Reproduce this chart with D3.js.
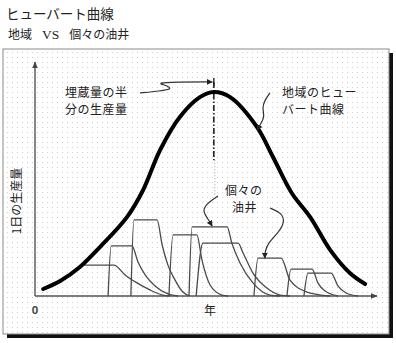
<!DOCTYPE html>
<html>
<head>
<meta charset="utf-8">
<title>ヒューバート曲線</title>
<style>
body { margin: 0; background: #fff; }
text { font-family: "Noto Sans CJK JP", "Noto Sans", sans-serif; }
</style>
</head>
<body>
<div id="chart"></div>
<script src="https://cdn.jsdelivr.net/npm/d3@7"></script>
<script>
// Regional Hubbert curve (x: time 0-100, y: rate 0-100)
var hubbertX = [2.4, 7.4, 13.2, 19.1, 27.1, 31.8, 36.8, 42.6, 48.5, 52.6, 57.4, 65.3, 70.0, 75.5, 80.9, 86.8, 92.6, 97.1];
var hubbertY = [3.0, 6.4, 12.4, 20.9, 33.8, 45.3, 62.4, 76.5, 85.0, 87.2, 85.0, 72.2, 59.4, 44.0, 33.8, 19.7, 9.8, 5.1];

// individual wells: rise, plateau, decline
var wellsX = [
  [14.4, 23.2, 26.5, 30.0, 33.8, 37.6, 39.7],
  [21.5, 22.4, 28.5, 30.3, 32.4, 35.3, 39.1, 42.1],
  [28.2, 29.1, 35.9, 37.4, 39.1, 41.2, 43.5, 45.6],
  [39.4, 40.6, 47.6, 49.1, 51.5, 55.0, 56.8],
  [45.3, 46.2, 56.5, 57.9, 60.3, 64.1, 69.1, 72.1],
  [47.4, 49.4, 59.7, 61.2, 64.1, 68.2, 72.1, 75.0],
  [64.4, 65.6, 72.4, 75.0, 80.0, 86.8],
  [74.1, 75.3, 81.5, 83.2, 85.3, 89.1],
  [79.1, 80.3, 87.1, 89.1, 91.5, 95.0]
];
var wellsY = [
  [13.2, 13.2, 9.0, 5.6, 2.6, 0.4, 0],
  [0, 21.4, 21.4, 14.5, 9.0, 4.3, 0.9, 0],
  [0, 32.5, 32.5, 21.8, 13.2, 6.8, 1.7, 0],
  [0, 26.1, 26.1, 15.4, 4.7, 0.4, 0],
  [0, 29.5, 29.5, 22.6, 14.1, 5.6, 0.4, 0],
  [0, 22.6, 22.6, 18.4, 9.8, 3.4, 0.4, 0],
  [0, 16.2, 16.2, 6.8, 1.7, 0],
  [0, 11.5, 11.5, 5.6, 2.1, 0],
  [0, 9.8, 9.8, 4.3, 1.3, 0]
];

// annotation leader lines (same units)
var leaders = [
  [[30.9, 86.8], [36.8, 87.6], [40.6, 88.5], [38.2, 90.2], [35.9, 91.0], [41.2, 91.5], [52.1, 91.5]],
  [[69.1, 86.8], [67.6, 83.8], [66.8, 80.3], [67.6, 76.5], [66.2, 73.1], [65.3, 70.9]],
  [[53.8, 42.7], [50.0, 38.9], [49.4, 35.9], [50.9, 32.9], [52.1, 29.9]],
  [[69.1, 37.6], [72.6, 35.5], [73.5, 31.6], [71.5, 26.9], [68.5, 22.6], [67.6, 18.8], [67.6, 16.2]]
];

var peakX = 52.6;

var title = "ヒューバート曲線",
    yLabel = "1日の生産量",
    xLabel = "年";

var W = 396, H = 343;

var svg = d3.select("#chart").append("svg")
    .attr("width", W)
    .attr("height", H);

var defs = svg.append("defs");
var pat = defs.append("pattern")
    .attr("id", "dots")
    .attr("width", 5)
    .attr("height", 5)
    .attr("patternUnits", "userSpaceOnUse");
pat.append("rect").attr("width", 5).attr("height", 5).attr("fill", "#fff");
pat.append("rect").attr("x", 2).attr("y", 2).attr("width", 1).attr("height", 1).attr("fill", "#cfcfcf");

defs.append("marker")
    .attr("id", "arr")
    .attr("viewBox", "0 0 10 10")
    .attr("refX", 9).attr("refY", 5)
    .attr("markerWidth", 5).attr("markerHeight", 5)
    .attr("orient", "auto")
  .append("path")
    .attr("d", "M0,0L10,5L0,10z")
    .attr("fill", "#222");

defs.append("marker")
    .attr("id", "axarr")
    .attr("viewBox", "0 0 10 10")
    .attr("refX", 9).attr("refY", 5)
    .attr("markerWidth", 5).attr("markerHeight", 5)
    .attr("orient", "auto")
  .append("path")
    .attr("d", "M0,1L10,5L0,9z")
    .attr("fill", "#444");

// titles
svg.append("text")
    .attr("x", 6).attr("y", 19)
    .attr("font-size", 13.5)
    .attr("fill", "#222")
    .text(title);
var sub = svg.append("text")
    .attr("x", 8).attr("y", 39)
    .attr("font-size", 12)
    .attr("fill", "#222");
sub.append("tspan").text("地域");
sub.append("tspan").attr("dx", 10)
    .attr("font-family", "Liberation Serif, serif")
    .attr("font-size", 13.5)
    .text("VS");
sub.append("tspan").attr("dx", 10).text("個々の油井");

// frame with shadow
svg.append("rect")
    .attr("x", 7).attr("y", 53)
    .attr("width", 386).attr("height", 285)
    .attr("fill", "#111");
svg.append("rect")
    .attr("x", 3).attr("y", 49)
    .attr("width", 386).attr("height", 285)
    .attr("fill", "url(#dots)")
    .attr("stroke", "#8a8a8a")
    .attr("stroke-width", 1);

var x = d3.scaleLinear().domain([0, 100]).range([35, 375]);
var y = d3.scaleLinear().domain([0, 100]).range([296, 62]);

// axes
svg.append("line")
    .attr("x1", x(0)).attr("y1", y(0))
    .attr("x2", x(0)).attr("y2", y(100))
    .attr("stroke", "#555").attr("stroke-width", 1.4)
    .attr("marker-end", "url(#axarr)");
svg.append("line")
    .attr("x1", x(0)).attr("y1", y(0))
    .attr("x2", x(100) + 2).attr("y2", y(0))
    .attr("stroke", "#555").attr("stroke-width", 1.4)
    .attr("marker-end", "url(#axarr)");

svg.append("text")
    .attr("x", x(0)).attr("y", 314)
    .attr("text-anchor", "middle")
    .attr("font-size", 11).attr("font-weight", "bold")
    .attr("fill", "#444")
    .text("0");
svg.append("text")
    .attr("x", 210).attr("y", 315)
    .attr("text-anchor", "middle")
    .attr("font-size", 12)
    .attr("fill", "#222")
    .text(xLabel);
svg.append("text")
    .attr("transform", "translate(21,201) rotate(-90)")
    .attr("text-anchor", "middle")
    .attr("font-size", 12)
    .attr("fill", "#222")
    .text(yLabel);

// wells
var wellLine = d3.line()
    .x(d => x(d[0]))
    .y(d => y(d[1]))
    .curve(d3.curveMonotoneX);

svg.selectAll(".well")
    .data(wellsX.map((xs, i) => xs.map((v, j) => [v, wellsY[i][j]])))
  .enter().append("path")
    .attr("class", "well")
    .attr("d", wellLine)
    .attr("fill", "none")
    .attr("stroke", "#4a4a4a")
    .attr("stroke-width", 1.3);

// peak marker
svg.append("line")
    .attr("x1", x(peakX)).attr("x2", x(peakX))
    .attr("y1", y(91.5)).attr("y2", y(58))
    .attr("stroke", "#222").attr("stroke-width", 1.6)
    .attr("stroke-dasharray", "6,2,1.5,2");
svg.append("line")
    .attr("x1", x(peakX) + 1).attr("x2", x(peakX) + 1)
    .attr("y1", y(58)).attr("y2", y(43))
    .attr("stroke", "#999").attr("stroke-width", 1)
    .attr("stroke-dasharray", "1,2");

// Hubbert curve
var hubLine = d3.line()
    .x(d => x(d[0]))
    .y(d => y(d[1]))
    .curve(d3.curveCatmullRom);

svg.append("path")
    .datum(hubbertX.map((v, i) => [v, hubbertY[i]]))
    .attr("d", hubLine)
    .attr("fill", "none")
    .attr("stroke", "#000")
    .attr("stroke-width", 4)
    .attr("stroke-linecap", "round");

// leaders
svg.selectAll(".leader")
    .data(leaders)
  .enter().append("path")
    .attr("class", "leader")
    .attr("d", d3.line().x(d => x(d[0])).y(d => y(d[1])).curve(d3.curveBasis))
    .attr("fill", "none")
    .attr("stroke", "#333")
    .attr("stroke-width", 1.2)
    .attr("marker-end", "url(#arr)");

// small tick at the arrow end by the peak
svg.append("line")
    .attr("x1", x(peakX)).attr("x2", x(peakX))
    .attr("y1", y(91.5) - 4).attr("y2", y(91.5) + 4)
    .attr("stroke", "#222").attr("stroke-width", 1.4);

// labels
var labels = [
  { t: ["埋蔵量の半", "分の生産量"], x: 65, y: 97 },
  { t: ["地域のヒュー", "バート曲線"], x: 282, y: 97 },
  { t: ["個々の"], x: 225, y: 195 },
  { t: ["油井"], x: 232, y: 212 }
];
labels.forEach(function(l) {
  l.t.forEach(function(s, i) {
    svg.append("text")
      .attr("x", l.x).attr("y", l.y + i * 17)
      .attr("font-size", 12)
      .attr("letter-spacing", 0.5)
      .attr("fill", "#222")
      .text(s);
  });
});
</script>
</body>
</html>
